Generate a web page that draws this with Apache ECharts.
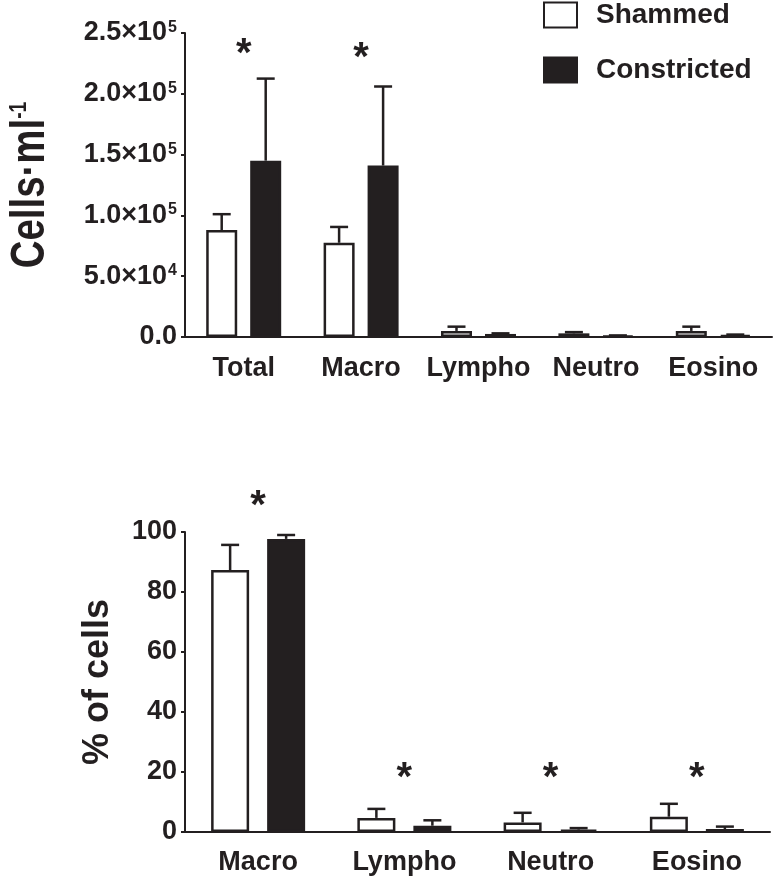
<!DOCTYPE html>
<html>
<head>
<meta charset="utf-8">
<script src="https://cdn.jsdelivr.net/npm/echarts@6/dist/echarts.min.js"></script>
<style>
html,body{margin:0;padding:0;background:#fff;}
#chart{width:773px;height:887px;}
</style>
</head>
<body>
<div id="chart"></div>
<script>
// ---------- DATA ----------
const seriesNames = ['Shammed', 'Constricted'];

// Top panel: cells per ml
const countCategories = ['Total', 'Macro', 'Lympho', 'Neutro', 'Eosino'];
const shamCount = [88000, 77500, 5000, 3000, 5000];
const shamCountSD = [13000, 13000, 3500, 1000, 3500];
const conCount = [145000, 141000, 2500, 1000, 1500];
const conCountSD = [67500, 65000, 500, 300, 500];
const countTickLabels = ['0.0', '5.0×10{s|4}', '1.0×10{s|5}', '1.5×10{s|5}', '2.0×10{s|5}', '2.5×10{s|5}'];
const countTitle = 'Cells·ml{s|-1}';
const countSigCats = [0, 1];
const countSigY = [238000, 234700];

// Bottom panel: % of cells
const pctCategories = ['Macro', 'Lympho', 'Neutro', 'Eosino'];
const shamPct = [87.3, 4.7, 3.2, 5.1];
const shamPctSD = [8.4, 3.0, 3.2, 4.3];
const conPct = [97.7, 2.1, 0.8, 1.0];
const conPctSD = [1.3, 1.8, 0.5, 0.8];
const pctTickLabels = ['0', '20', '40', '60', '80', '100'];
const pctTitle = '% of cells';
const pctSigCats = [0, 1, 2, 3];
const pctSigY = [110.7, 20, 20, 20];

// ---------- STYLE ----------
const FONT = 'Liberation Sans';
const INK = '#231f20';
const TOP_BW = 31, TOP_GAP = 13;
const BOT_BW = 38, BOT_GAP = 18;
const CAP = 18;
const STAR_SIZE = 40;

function errSeries(ai, means, sds, side, bw, gap) {
  return {
    type: 'custom',
    xAxisIndex: ai, yAxisIndex: ai,
    z: 1,
    encode: { x: 0, y: 1 },
    data: means.map((m, i) => [i, m, sds[i]]),
    renderItem: function (params, api) {
      const c = api.value(0), m = api.value(1), s = api.value(2);
      const p0 = api.coord([c, m]);
      const p1 = api.coord([c, m + s]);
      const x = p0[0] + side * (bw + gap) / 2;
      const st = { stroke: INK, lineWidth: 2.5 };
      return {
        type: 'group',
        children: [
          { type: 'line', shape: { x1: x, y1: p0[1], x2: x, y2: p1[1] }, style: st },
          { type: 'line', shape: { x1: x - CAP / 2, y1: p1[1], x2: x + CAP / 2, y2: p1[1] }, style: st }
        ]
      };
    }
  };
}

function starSeries(ai, cats, ys) {
  return {
    type: 'custom',
    xAxisIndex: ai, yAxisIndex: ai,
    z: 3,
    encode: { x: 0, y: 1 },
    data: cats.map((c, i) => [c, ys[i]]),
    renderItem: function (params, api) {
      const p = api.coord([api.value(0), api.value(1)]);
      return {
        type: 'text',
        x: p[0], y: p[1] + STAR_SIZE * 0.18,
        style: {
          text: '*', fill: INK, fontSize: STAR_SIZE, fontWeight: 'bold',
          fontFamily: FONT, align: 'center', verticalAlign: 'middle'
        }
      };
    }
  };
}

function barSeries(ai, name, data, color, bw, gap) {
  return {
    type: 'bar', name: name,
    xAxisIndex: ai, yAxisIndex: ai,
    data: data,
    barWidth: bw,
    barGap: (gap / bw * 100).toFixed(1) + '%',
    z: 2,
    itemStyle: { color: color, borderColor: INK, borderWidth: 2.5 }
  };
}

const labelBase = { fontFamily: FONT, fontWeight: 'bold', color: INK };
const rich = {
  s: { fontFamily: FONT, fontWeight: 'bold', color: INK, fontSize: 16, verticalAlign: 'top', padding: [0, 0, 6, 1] }
};

const chart = echarts.init(document.getElementById('chart'), null, { renderer: 'canvas' });
chart.setOption({
  animation: false,
  backgroundColor: '#fff',
  legend: {
    data: seriesNames,
    orient: 'vertical',
    left: 543, top: 1, padding: 0,
    itemWidth: 33, itemHeight: 25, itemGap: 27,
    icon: 'rect',
    textStyle: Object.assign({ fontSize: 28, padding: [0, 0, 0, 14] }, labelBase)
  },
  graphic: [
    {
      type: 'text',
      x: 31, y: 185,
      rotation: Math.PI / 2,
      scaleX: 0.8,
      style: {
        text: countTitle,
        fontSize: 48, fontWeight: 'bold', fontFamily: FONT, fill: INK,
        align: 'center', verticalAlign: 'middle',
        rich: { s: { fontSize: 24, fontWeight: 'bold', fontFamily: FONT, fill: INK, verticalAlign: 'top' } }
      }
    }
  ],
  grid: [
    { left: 185, top: 33, width: 587, height: 304 },
    { left: 185, top: 532, width: 585, height: 300 }
  ],
  xAxis: [
    {
      gridIndex: 0, type: 'category', data: countCategories,
      axisLine: { lineStyle: { color: INK, width: 2 } },
      axisTick: { show: false },
      axisLabel: Object.assign({ fontSize: 27, margin: 18, interval: 0 }, labelBase)
    },
    {
      gridIndex: 1, type: 'category', data: pctCategories,
      axisLine: { lineStyle: { color: INK, width: 2 } },
      axisTick: { show: false },
      axisLabel: Object.assign({ fontSize: 27, margin: 17, interval: 0 }, labelBase)
    }
  ],
  yAxis: [
    {
      gridIndex: 0, type: 'value', min: 0, max: 250000, interval: 50000,
      splitLine: { show: false },
      axisLine: { show: true, lineStyle: { color: INK, width: 2 } },
      axisTick: { show: true, length: 4, lineStyle: { color: INK, width: 2 } },
      axisLabel: Object.assign({
        fontSize: 27, margin: 8, rich: rich,
        formatter: v => countTickLabels[Math.round(v / 50000)]
      }, labelBase)
    },
    {
      gridIndex: 1, type: 'value', min: 0, max: 100, interval: 20,
      splitLine: { show: false },
      axisLine: { show: true, lineStyle: { color: INK, width: 2 } },
      axisTick: { show: true, length: 4, lineStyle: { color: INK, width: 2 } },
      axisLabel: Object.assign({
        fontSize: 27, margin: 8,
        formatter: v => pctTickLabels[Math.round(v / 20)]
      }, labelBase),
      name: pctTitle,
      nameLocation: 'middle', nameRotate: 90, nameGap: 69,
      nameTextStyle: Object.assign({ fontSize: 36 }, labelBase)
    }
  ],
  series: [
    barSeries(0, seriesNames[0], shamCount, '#ffffff', TOP_BW, TOP_GAP),
    barSeries(0, seriesNames[1], conCount, INK, TOP_BW, TOP_GAP),
    errSeries(0, shamCount, shamCountSD, -1, TOP_BW, TOP_GAP),
    errSeries(0, conCount, conCountSD, 1, TOP_BW, TOP_GAP),
    starSeries(0, countSigCats, countSigY),
    barSeries(1, seriesNames[0], shamPct, '#ffffff', BOT_BW, BOT_GAP),
    barSeries(1, seriesNames[1], conPct, INK, BOT_BW, BOT_GAP),
    errSeries(1, shamPct, shamPctSD, -1, BOT_BW, BOT_GAP),
    errSeries(1, conPct, conPctSD, 1, BOT_BW, BOT_GAP),
    starSeries(1, pctSigCats, pctSigY)
  ]
});
</script>
</body>
</html>
